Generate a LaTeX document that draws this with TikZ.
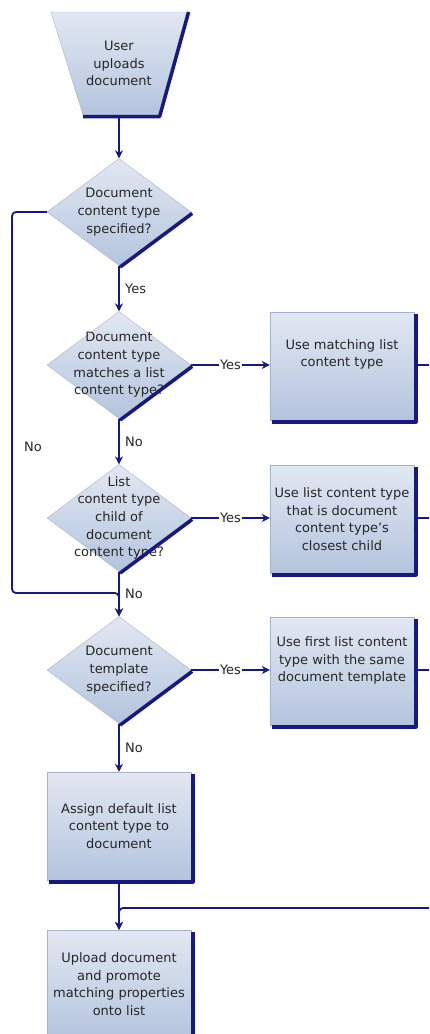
\documentclass[tikz,border=0pt]{standalone}
\usepackage{fontspec}
\setmainfont{DejaVu Sans}
\usetikzlibrary{arrows.meta}
\usetikzlibrary{shapes.geometric}
\definecolor{navy}{RGB}{22,24,132}
\definecolor{boxtop}{RGB}{226,232,242}
\definecolor{boxbot}{RGB}{180,196,222}
\definecolor{boxline}{RGB}{165,180,204}
\tikzset{
  flow/.style={navy, line width=1.8pt, -{Stealth[length=8pt, width=8pt]}},
  plainflow/.style={navy, line width=1.8pt},
  shadeline/.style={navy, line width=3.5pt, line cap=butt},
  txt/.style={align=center, font=\fontsize{13}{17.7}\selectfont, text=black!85},
  procbox/.style={rectangle, draw=boxline, top color=boxtop, bottom color=boxbot,
    minimum width=144pt, minimum height=108pt, inner sep=0pt, txt},
  decision/.style={diamond, draw=boxline, top color=boxtop, bottom color=boxbot,
    minimum width=144pt, minimum height=107pt, inner sep=0pt},
  tag/.style={fill=white, inner sep=0.6pt, txt}
}
\begin{document}
\begin{tikzpicture}[line join=round, x=1pt, y=-1pt]
\useasboundingbox (0,0) rectangle (429,1034);
\clip (0,0) rectangle (429,1034);
% shapes
\path[draw=boxline, top color=boxtop, bottom color=boxbot] (51,12) -- (187,12) -- (158,115) -- (83,115) -- cycle;
\draw[shadeline] (188.6,12) -- (159.6,116.6) -- (83,116.6);
\node[txt, minimum height=103pt, inner sep=0pt] (user) at (119,63.5) {User\\uploads\\document};
\node[decision, label={[txt]center:Document\\content type\\specified?}] (spec) at (119,212) {};
\node[decision, label={[txt]center:Document\\content type\\matches a list\\content type?}] (match) at (119,365) {};
\node[decision, label={[txt]center:List\\content type\\child of\\document\\content type?}] (child) at (119,518) {};
\node[decision, label={[txt]center:Document\\template\\specified?}] (tmpl) at (119,670) {};
\node[procbox] (usematch) at (342,366) {Use matching list\\content type\\[8pt]};
\node[procbox] (useclose) at (342,519) {Use list content type\\that is document\\content type’s\\closest child};
\node[procbox] (usefirst) at (342,671) {Use first list content\\type with the same\\document template\\[6pt]};
\node[procbox] (assign) at (119,826) {Assign default list\\content type to\\document};
\node[procbox] (upload) at (119,984) {Upload document\\and promote\\matching properties\\onto list};
% shadows
\foreach \d in {spec,match,child,tmpl}
  \draw[shadeline] ([xshift=1pt,yshift=-1.4pt]\d.east) -- ([xshift=1pt,yshift=-1.4pt]\d.south);
\foreach \b in {usematch,useclose,usefirst,assign,upload}
  \draw[shadeline] ([xshift=1.6pt,yshift=-2pt]\b.north east) -- ([xshift=1.6pt,yshift=-1.6pt]\b.south east) -- ([xshift=2pt,yshift=-1.6pt]\b.south west);
% connectors
\draw[flow] (user.south) -- (spec.north);
\draw[flow] (spec.south) -- (match.north) node[midway, right, xshift=2pt, txt] {Yes};
\draw[flow] (match.south) -- (child.north) node[midway, right, xshift=2pt, txt] {No};
\draw[flow] (child.south) -- (tmpl.north) node[midway, right, xshift=2pt, txt] {No};
\draw[flow] (tmpl.south) -- (assign.north) node[midway, right, xshift=2pt, txt] {No};
\draw[flow] (assign.south) -- (upload.north);
\draw[flow] (match.east) -- (usematch.west |- match.east) node[midway, tag] {Yes};
\draw[flow] (child.east) -- (useclose.west |- child.east) node[midway, tag] {Yes};
\draw[flow] (tmpl.east) -- (usefirst.west |- tmpl.east) node[midway, tag] {Yes};
\draw[flow, rounded corners=4pt] (spec.west) -- (12,212) -- (12,593) -- (119,593) -- (tmpl.north);
\node[txt] (nolabel) at (33,447) {No};
\draw[plainflow] (usematch.east |- match.east) -- (436,365);
\draw[plainflow] (useclose.east |- child.east) -- (436,518);
\draw[flow, rounded corners=4pt] (usefirst.east |- tmpl.east) -- (436,670) -- (436,908) -- (119,908) -- (upload.north);
\end{tikzpicture}
\end{document}
